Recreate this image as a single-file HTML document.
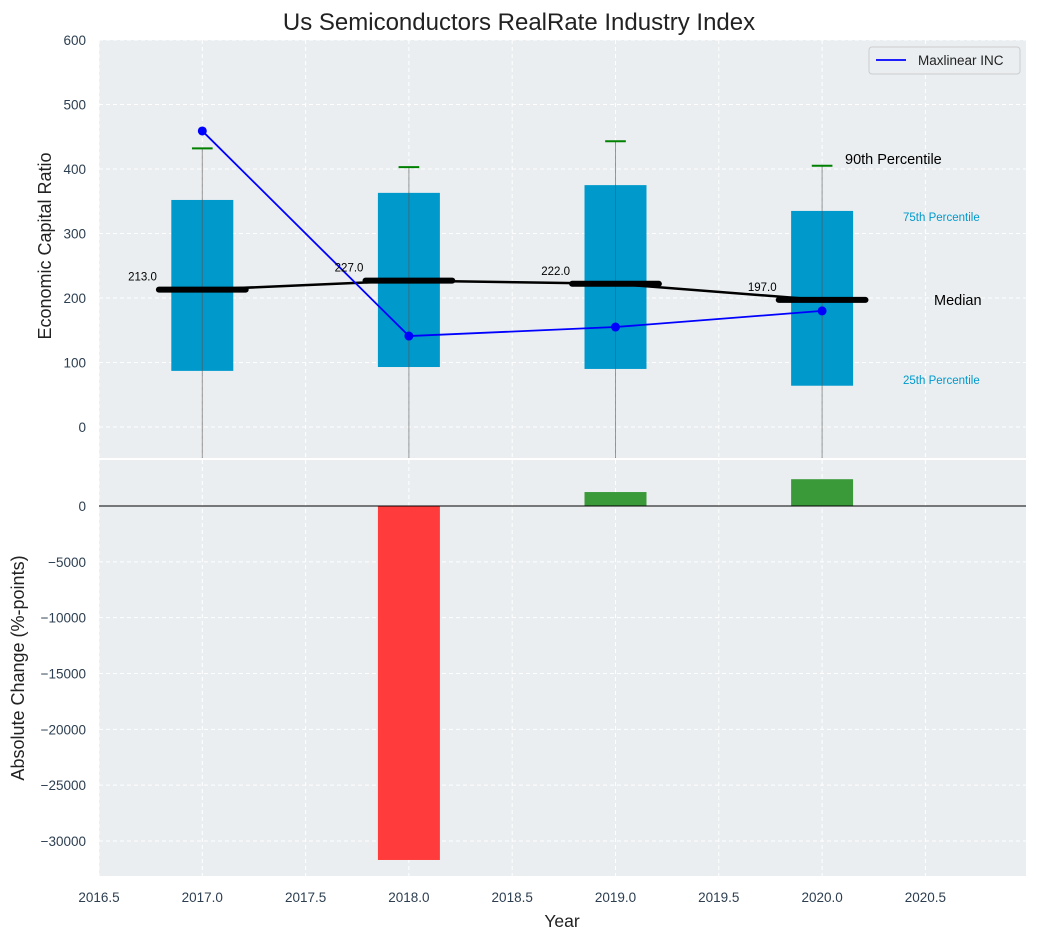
<!DOCTYPE html>
<html><head><meta charset="utf-8"><style>
body{margin:0;background:#fff;font-family:"Liberation Sans",sans-serif}
svg{display:block}
</style></head><body>
<svg id="c" width="1038" height="940" xmlns="http://www.w3.org/2000/svg"></svg>
<script>
const years=[2017,2018,2019,2020];
const p25=[87,93,90,64];
const p75=[352,363,375,335];
const p90=[432,403,443,405];
const medians=[213,227,222,197];
const company=[459,141,155,180];
const changes=[0,-31700,1250,2400];
const topTicks=[0,100,200,300,400,500,600];
const botTicks=[0,-5000,-10000,-15000,-20000,-25000,-30000];
const xTicks=[2016.5,2017,2017.5,2018,2018.5,2019,2019.5,2020,2020.5];

const NS="http://www.w3.org/2000/svg";
const svg=document.getElementById('c');
function el(t,a,txt,p){const e=document.createElementNS(NS,t);for(const k in a)e.setAttribute(k,a[k]);if(txt!=null)e.textContent=txt;(p||svg).appendChild(e);return e;}
const L=99,R=1026,T1=40,B1=458,T2=460,B2=876;
const X=v=>L+(v-2016.5)/0.5*103.3;
const Y1=v=>427-v*0.645;
const Y2=v=>506-v*(335/30000);

let e;
e=el('rect',{x:L,y:T1,width:R-L,height:B1-T1,fill:'#eaeef0'});

e=el('rect',{x:L,y:T2,width:R-L,height:B2-T2,fill:'#eaeef0'});


xTicks.forEach(t=>{
 el('line',{x1:X(t),x2:X(t),y1:T1,y2:B1,stroke:'#fff','stroke-dasharray':'4,3','stroke-width':1});
 el('line',{x1:X(t),x2:X(t),y1:T2,y2:B2,stroke:'#fff','stroke-dasharray':'4,3','stroke-width':1});
 e=el('text',{x:X(t),y:902,'text-anchor':'middle','font-size':13.5,fill:'#2c3e50'},t.toFixed(1));
 
});
topTicks.forEach(t=>{
 el('line',{x1:L,x2:R,y1:Y1(t),y2:Y1(t),stroke:'#fff','stroke-dasharray':'4,3'});
 e=el('text',{x:86,y:Y1(t)+5,'text-anchor':'end','font-size':13.5,fill:'#2c3e50'},t);
 
});
botTicks.forEach(t=>{
 el('line',{x1:L,x2:R,y1:Y2(t),y2:Y2(t),stroke:'#fff','stroke-dasharray':'4,3'});
 e=el('text',{x:86,y:Y2(t)+5,'text-anchor':'end','font-size':13.5,fill:'#2c3e50'},t===0?'0':'\u2212'+Math.abs(t));
 
});

const clip=el('clipPath',{id:'cp'});el('rect',{x:L,y:T1,width:R-L,height:B1-T1},null,clip);
const g=el('g',{'clip-path':'url(#cp)'});
years.forEach((yr,i)=>{
 e=el('rect',{x:X(yr-0.15),y:Y1(p75[i]),width:X(yr+0.15)-X(yr-0.15),height:Y1(p25[i])-Y1(p75[i]),fill:'#0099cc'},null,g);
 
 e=el('line',{x1:X(yr),x2:X(yr),y1:Y1(p90[i]),y2:B1,stroke:'#555','stroke-opacity':0.6,'stroke-width':1},null,g);
 
 e=el('line',{x1:X(yr-0.05),x2:X(yr+0.05),y1:Y1(p90[i]),y2:Y1(p90[i]),stroke:'green','stroke-width':2},null,g);
 
});
e=el('polyline',{points:years.map((y,i)=>X(y)+','+Y1(medians[i])).join(' '),fill:'none',stroke:'#000','stroke-width':2.5},null,g);

years.forEach((yr,i)=>{
 e=el('line',{x1:X(yr-0.21),x2:X(yr+0.21),y1:Y1(medians[i]),y2:Y1(medians[i]),stroke:'#000','stroke-width':6,'stroke-linecap':'round'},null,g);
 
 e=el('text',{x:X(yr-0.22),y:Y1(medians[i])-9,'text-anchor':'end','font-size':11.5,fill:'#000'},medians[i].toFixed(1));
 
});
e=el('polyline',{points:years.map((y,i)=>X(y)+','+Y1(company[i])).join(' '),fill:'none',stroke:'blue','stroke-width':1.8},null,g);

years.forEach((yr,i)=>{e=el('circle',{cx:X(yr),cy:Y1(company[i]),r:4.5,fill:'blue'},null,g);
 });

[['90th Percentile',845,164,14.5,'#000','label-90th'],
 ['75th Percentile',903,221,11.5,'#0099cc','label-75th'],
 ['Median',934,305,14.5,'#000','label-median'],
 ['25th Percentile',903,384,11.5,'#0099cc','label-25th']].forEach(a=>{
 e=el('text',{x:a[1],y:a[2],'font-size':a[3],fill:a[4]},a[0]);
 
});

years.forEach((yr,i)=>{
 if(!changes[i])return;
 const y0=Y2(0),y1=Y2(changes[i]);
 e=el('rect',{x:X(yr-0.15),y:Math.min(y0,y1),width:X(yr+0.15)-X(yr-0.15),height:Math.abs(y1-y0),fill:changes[i]<0?'#ff3b3b':'#3a9a3a'});
 
});
e=el('line',{x1:L,x2:R,y1:Y2(0),y2:Y2(0),stroke:'#000','stroke-width':1});


e=el('g',{});
el('rect',{x:869,y:47,width:151,height:27,rx:3,fill:'#eaeef0',stroke:'#ccc'},null,e);
el('line',{x1:876,x2:906,y1:60,y2:60,stroke:'blue','stroke-width':1.8},null,e);
el('text',{x:918,y:65,'font-size':13.5,fill:'#222'},'Maxlinear INC',e);

e=el('text',{x:519,y:30,'text-anchor':'middle','font-size':24,fill:'#222'},'Us Semiconductors RealRate Industry Index');

e=el('text',{x:562,y:927,'text-anchor':'middle','font-size':17.5,fill:'#222'},'Year');

e=el('text',{x:0,y:0,'text-anchor':'middle','font-size':18,fill:'#222',transform:'translate(51,246) rotate(-90)'},'Economic Capital Ratio');

e=el('text',{x:0,y:0,'text-anchor':'middle','font-size':18,fill:'#222',transform:'translate(24,668) rotate(-90)'},'Absolute Change (%-points)');

</script>
</body></html>
